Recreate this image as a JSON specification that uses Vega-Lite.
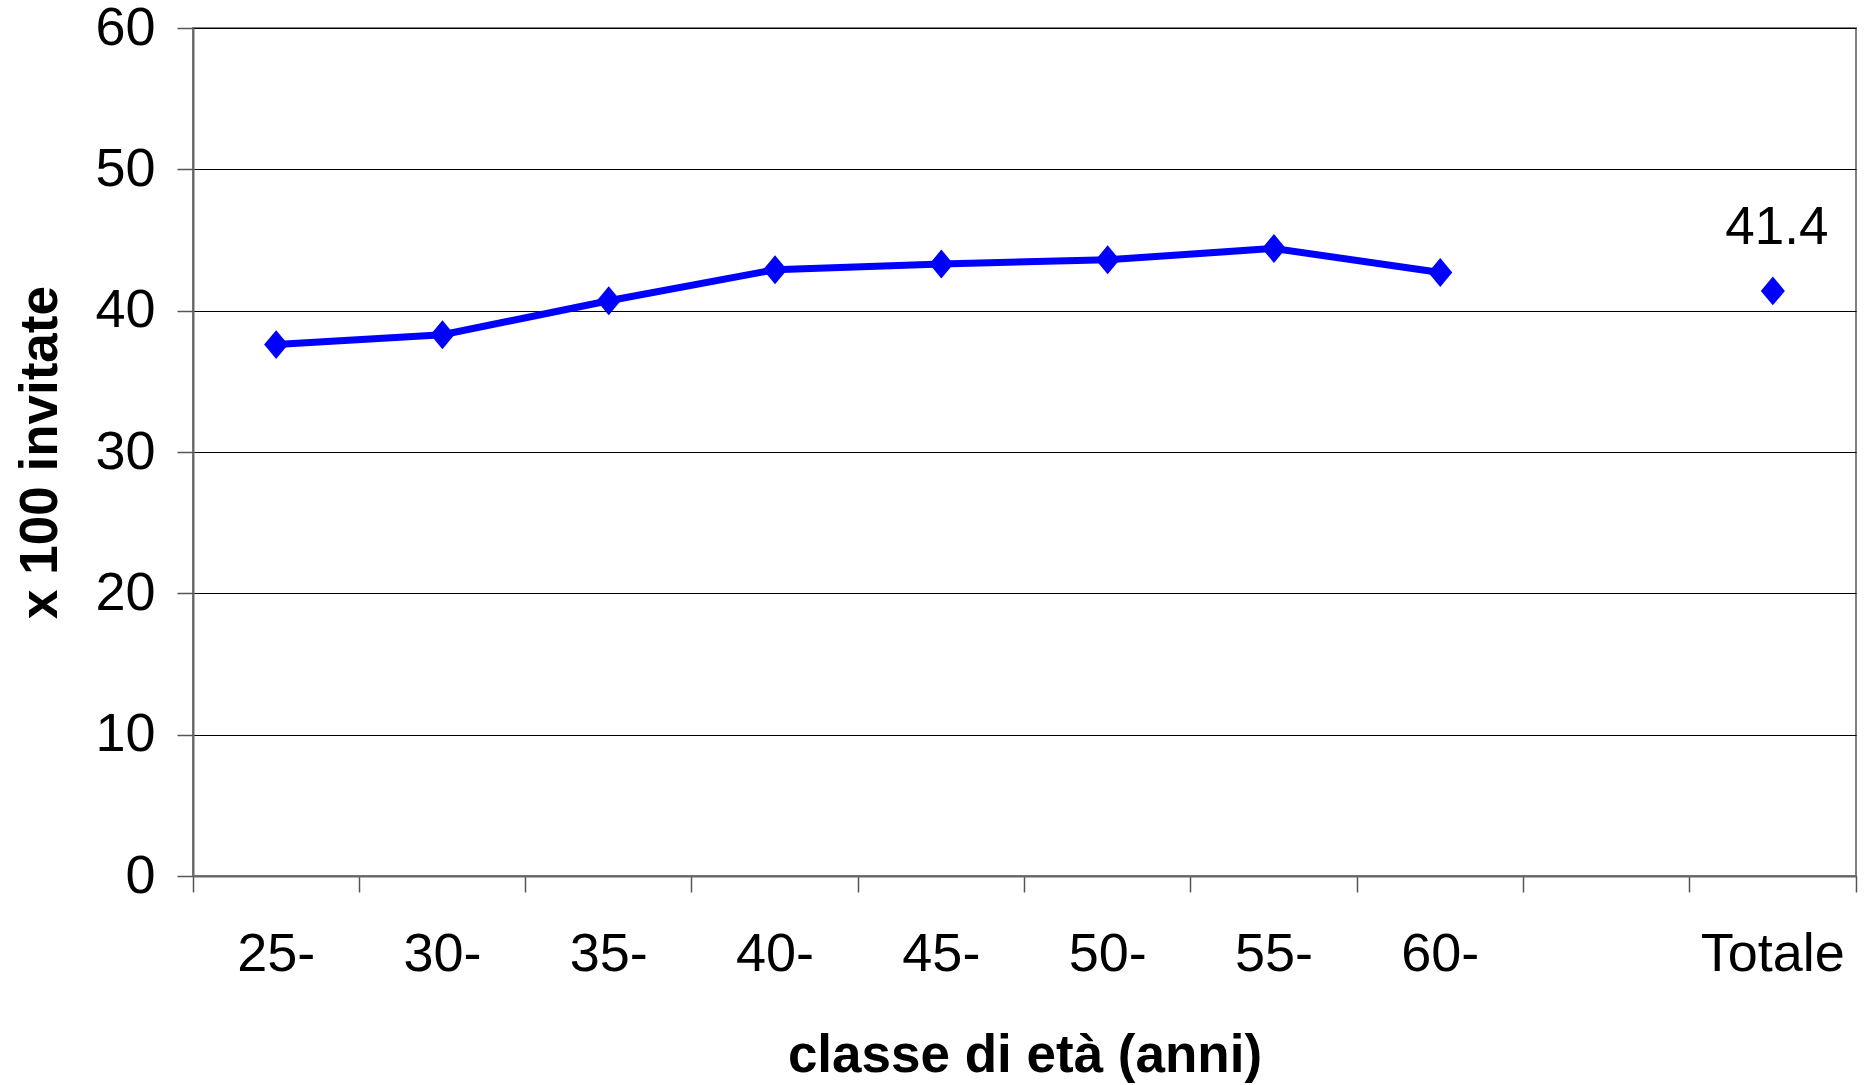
{
  "$schema": "https://vega.github.io/schema/vega-lite/v6.json",
  "width": 1663,
  "height": 848,
  "autosize": {"type": "none"},
  "padding": {"left": 193, "top": 28, "right": 8, "bottom": 209},
  "background": "white",
  "config": {
    "font": "Liberation Sans",
    "view": {"stroke": "#808080", "strokeWidth": 2}
  },
  "data": {
    "values": [
      {"classe": "25-", "valore": 37.6},
      {"classe": "30-", "valore": 38.3},
      {"classe": "35-", "valore": 40.7},
      {"classe": "40-", "valore": 42.9},
      {"classe": "45-", "valore": 43.3},
      {"classe": "50-", "valore": 43.6},
      {"classe": "55-", "valore": 44.4},
      {"classe": "60-", "valore": 42.7},
      {"classe": "Totale", "valore": 41.4}
    ]
  },
  "encoding": {
    "x": {
      "field": "classe",
      "type": "nominal",
      "scale": {
        "type": "band",
        "domain": ["25-", "30-", "35-", "40-", "45-", "50-", "55-", "60-", " ", "Totale"],
        "paddingInner": 0,
        "paddingOuter": 0
      },
      "axis": {
        "title": "classe di età (anni)",
        "titleFont": "Liberation Sans",
        "titleFontSize": 53,
        "titleFontWeight": "bold",
        "titleColor": "black",
        "titlePadding": 48,
        "labelAngle": 0,
        "labelFontSize": 54,
        "labelColor": "black",
        "labelPadding": 35,
        "bandPosition": 1,
        "tickExtra": true,
        "tickSize": 16,
        "tickColor": "#555555",
        "tickWidth": 1.5,
        "domainColor": "#666666",
        "domainWidth": 2,
        "grid": false
      }
    },
    "y": {
      "field": "valore",
      "type": "quantitative",
      "scale": {"domain": [0, 60], "nice": false, "zero": true},
      "axis": {
        "title": "x 100 invitate",
        "titleFont": "Liberation Sans",
        "titleFontSize": 53,
        "titleFontWeight": "bold",
        "titleColor": "black",
        "titlePadding": 27,
        "values": [0, 10, 20, 30, 40, 50, 60],
        "labelFontSize": 54,
        "labelColor": "black",
        "labelPadding": 22,
        "tickSize": 16,
        "tickColor": "#555555",
        "tickWidth": 1.5,
        "domainColor": "#666666",
        "domainWidth": 2,
        "grid": true,
        "gridColor": "#000000",
        "gridWidth": 1
      }
    }
  },
  "layer": [
    {
      "transform": [{"filter": "datum.classe !== 'Totale'"}],
      "mark": {"type": "line", "color": "#0000FF", "strokeWidth": 7},
      "encoding": {}
    },
    {
      "mark": {
        "type": "point",
        "shape": "M-1,0L0,-1.2L1,0L0,1.2Z",
        "filled": true,
        "opacity": 1,
        "color": "#0000FF",
        "size": 580
      },
      "encoding": {}
    },
    {
      "transform": [{"filter": "datum.classe === 'Totale'"}],
      "mark": {
        "type": "text",
        "fontSize": 53,
        "color": "black",
        "baseline": "alphabetic",
        "align": "center",
        "dx": 4,
        "dy": -47
      },
      "encoding": {"text": {"field": "valore", "type": "quantitative", "format": ".1f"}}
    }
  ]
}
